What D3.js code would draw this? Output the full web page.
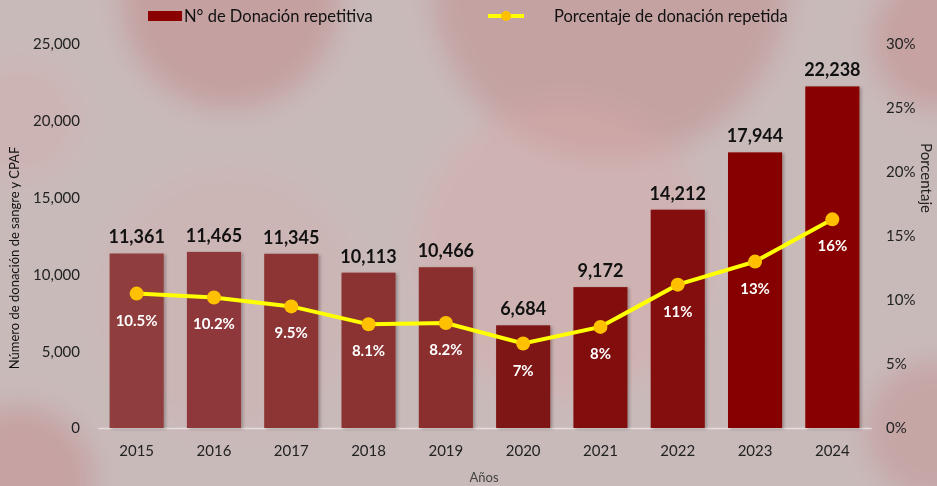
<!DOCTYPE html>
<html>
<head>
<meta charset="utf-8">
<title>Donación repetitiva</title>
<script src="https://d3js.org/d3.v7.min.js"></script>
<style>
  body { margin: 0; background: #c9baba; }
  svg { display: block; font-family: Lato, "Open Sans", sans-serif; }
</style>
</head>
<body>
<script>
// data
const years = ["2015", "2016", "2017", "2018", "2019", "2020", "2021", "2022", "2023", "2024"];
const donations = [11361, 11465, 11345, 10113, 10466, 6684, 9172, 14212, 17944, 22238];
const percents = [10.5, 10.2, 9.5, 8.1, 8.2, 6.6, 7.9, 11.2, 13.0, 16.3];
const percentLabels = ["10.5%", "10.2%", "9.5%", "8.1%", "8.2%", "7%", "8%", "11%", "13%", "16%"];
const leftTicks = [0, 5000, 10000, 15000, 20000, 25000];
const rightTicks = [0, 5, 10, 15, 20, 25, 30];

const width = 937, height = 486;
const svg = d3.select("body").append("svg")
    .attr("width", width)
    .attr("height", height);

const defs = svg.append("defs");
defs.append("filter").attr("id", "blur")
    .attr("x", "-50%").attr("y", "-50%").attr("width", "200%").attr("height", "200%")
  .append("feGaussianBlur").attr("stdDeviation", 14);
const shadow = defs.append("filter").attr("id", "shadow");
shadow.append("feDropShadow")
    .attr("dx", 2).attr("dy", 1).attr("stdDeviation", 1.5)
    .attr("flood-color", "#000").attr("flood-opacity", 0.25);

// blurred background blobs (blood cells)
const bg = svg.append("g").attr("filter", "url(#blur)");
bg.append("rect").attr("x", -40).attr("y", -40).attr("width", width + 80).attr("height", height + 80).attr("fill", "#c9baba");
const blobs = [
  {x: 230, y: 0, r: 110, c: "#bf8080", o: 0.45},
  {x: 610, y: -20, r: 180, c: "#bf8080", o: 0.4},
  {x: 565, y: 250, r: 150, c: "#d6abab", o: 0.5},
  {x: 20, y: 480, r: 75, c: "#c48686", o: 0.45},
  {x: 230, y: 300, r: 130, c: "#d2b0b0", o: 0.4},
  {x: 940, y: 40, r: 70, c: "#c48686", o: 0.45},
  {x: 935, y: 430, r: 70, c: "#c48686", o: 0.4},
  {x: 20, y: 120, r: 60, c: "#d3aaaa", o: 0.35}
];
bg.selectAll("circle").data(blobs).join("circle")
    .attr("cx", d => d.x).attr("cy", d => d.y).attr("r", d => d.r)
    .attr("fill", d => d.c).attr("opacity", d => d.o);

const x = d3.scaleBand().domain(years).range([98, 871]).paddingInner(0.3).paddingOuter(0.15);
const y = d3.scaleLinear().domain([0, 25000]).range([428, 44]);
const y2 = d3.scaleLinear().domain([0, 30]).range([428, 44]);
const barColor = d3.scaleLinear().domain([0, 4, 5, 9])
    .range(["#8f3c3e", "#8a2e2e", "#7f1414", "#880000"]);

// axes
const leftAxis = svg.append("g")
    .attr("transform", "translate(80,0)")
    .call(d3.axisLeft(y).tickValues(leftTicks).tickSize(0).tickPadding(0).tickFormat(d3.format(",")));
const rightAxis = svg.append("g")
    .attr("transform", "translate(886,0)")
    .call(d3.axisRight(y2).tickValues(rightTicks).tickSize(0).tickPadding(0).tickFormat(d => d + "%"));
[leftAxis, rightAxis].forEach(a => {
  a.select(".domain").remove();
  a.selectAll("text").attr("font-size", 15).attr("fill", "#222").attr("font-family", "Lato, sans-serif");
});

const xAxis = svg.append("g")
    .attr("transform", "translate(0,428)")
    .call(d3.axisBottom(x).tickSize(0).tickPadding(17));
xAxis.select(".domain").attr("stroke", "#e6dede").attr("stroke-width", 1.5);
xAxis.selectAll("text").attr("font-size", 15).attr("fill", "#222").attr("font-family", "Lato, sans-serif");

// bars
svg.append("g").selectAll("rect").data(donations).join("rect")
    .attr("x", (d, i) => x(years[i]))
    .attr("y", d => y(d))
    .attr("width", x.bandwidth())
    .attr("height", d => y(0) - y(d))
    .attr("fill", (d, i) => barColor(i))
    .attr("filter", "url(#shadow)");

svg.append("g").selectAll("text").data(donations).join("text")
    .attr("x", (d, i) => x(years[i]) + x.bandwidth() / 2)
    .attr("y", d => y(d) - 10)
    .attr("text-anchor", "middle")
    .attr("font-size", 18).attr("font-weight", "bold").attr("fill", "#111")
    .text(d => d3.format(",")(d));

// percentage line
const line = d3.line()
    .x((d, i) => x(years[i]) + x.bandwidth() / 2)
    .y(d => y2(d));
svg.append("path").datum(percents)
    .attr("d", line)
    .attr("fill", "none").attr("stroke", "#ffff00").attr("stroke-width", 4);
svg.append("g").selectAll("circle").data(percents).join("circle")
    .attr("cx", (d, i) => x(years[i]) + x.bandwidth() / 2)
    .attr("cy", d => y2(d))
    .attr("r", 7)
    .attr("fill", "#ffc000");
svg.append("g").selectAll("text").data(percents).join("text")
    .attr("x", (d, i) => x(years[i]) + x.bandwidth() / 2)
    .attr("y", d => y2(d) + 32)
    .attr("text-anchor", "middle")
    .attr("font-size", 15).attr("font-weight", "bold").attr("fill", "#fff")
    .text((d, i) => percentLabels[i]);

// axis titles
svg.append("text")
    .attr("transform", "translate(19,258) rotate(-90)")
    .attr("text-anchor", "middle")
    .attr("font-size", 13).attr("fill", "#111")
    .text("Número de donación de sangre y CPAF");
svg.append("text")
    .attr("transform", "translate(921,178) rotate(90)")
    .attr("text-anchor", "middle")
    .attr("font-size", 15).attr("fill", "#222")
    .text("Porcentaje");
svg.append("text")
    .attr("x", 484).attr("y", 482)
    .attr("text-anchor", "middle")
    .attr("font-size", 13).attr("fill", "#444")
    .text("Años");

// legend
const legend = svg.append("g");
legend.append("rect").attr("x", 148).attr("y", 11).attr("width", 34).attr("height", 10).attr("fill", "#8b0000");
legend.append("text").attr("x", 184).attr("y", 22).attr("font-size", 16.5).attr("fill", "#111")
    .text("N° de Donación repetitiva");
legend.append("line").attr("x1", 488).attr("x2", 524).attr("y1", 16).attr("y2", 16)
    .attr("stroke", "#ffff00").attr("stroke-width", 4);
legend.append("circle").attr("cx", 506).attr("cy", 16).attr("r", 5).attr("fill", "#ffc000");
legend.append("text").attr("x", 554).attr("y", 22).attr("font-size", 16.5).attr("fill", "#111")
    .text("Porcentaje de donación repetida");
</script>
</body>
</html>
